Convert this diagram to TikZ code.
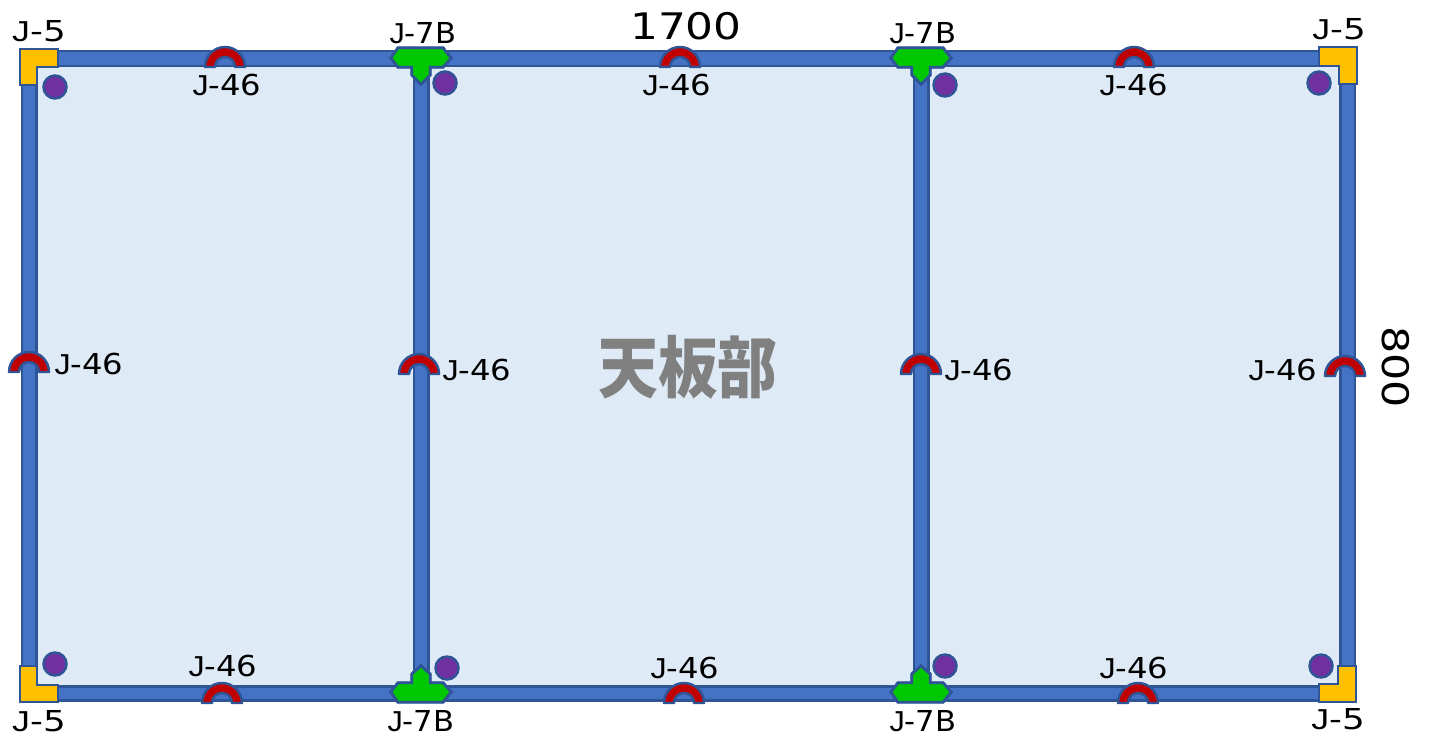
\documentclass[tikz,border=0pt]{standalone}
\usepackage{xcolor}
\usepackage{fontspec}
\setmainfont{DejaVu Sans}
\newfontfamily\cjk{Noto Sans CJK JP}
\newfontfamily\jfont{Liberation Sans}
\usepackage{tikz}
\definecolor{panelfill}{HTML}{DEEAF6}
\definecolor{wallfill}{HTML}{4472C4}
\definecolor{wallline}{HTML}{2F5597}
\definecolor{archfill}{HTML}{C00000}
\definecolor{teefill}{HTML}{00C800}
\definecolor{cornerfill}{HTML}{FFC000}
\definecolor{dotfill}{HTML}{7030A0}
\tikzset{
  wall/.style={fill=wallfill,draw=wallline,line width=0.7pt},
  arch/.style={fill=archfill,draw=wallline,line width=0.7pt,line join=round},
  tee/.style={fill=teefill,draw=wallline,line width=0.7pt},
  corner/.style={fill=cornerfill,draw=wallline,line width=0.7pt},
  dot/.style={circle,fill=dotfill,draw=wallline,line width=0.7pt,inner sep=0pt,minimum size=0.23cm},
  partlabel/.style={font=\fontsize{8.2}{10}\selectfont,xscale=#1,transform shape,inner sep=0pt},
  partlabel/.default=1.12,
  sizelabel/.style={font=\fontsize{10.4}{12}\selectfont,inner sep=0pt}
}
\newcommand{\archat}[2]{\draw[arch] (#1-20,#2) arc[start angle=180,end angle=360,radius=20] -- ++(-10,0) arc[start angle=360,end angle=180,radius=10] -- cycle;}
\begin{document}
\begin{tikzpicture}[x=0.01cm,y=-0.01cm]
\useasboundingbox (0,0) rectangle (1431,739);
\fill[panelfill] (29,58) rectangle (1348,693);
\draw[wall] (22,51) rectangle (1355,66);
\draw[wall] (22,686.5) rectangle (1355,700.5);
\foreach \x in {22,414,914,1340.5}
  \draw[wall] (\x,58) rectangle ++(14.5,635);
\foreach \x/\y in {225/67,680/67,1134/67,222/703,684/703,1138/703,29/372,419/374,921/374,1345/376}
  \archat{\x}{\y}
\foreach \x in {421,921} {
  \draw[tee] (\x-30,58) -- (\x-23,48) -- (\x+22,48) -- (\x+30,58) -- (\x+22,67) -- (\x+9,67) -- (\x+9,75) -- (\x,84) -- (\x-9,75) -- (\x-9,67) -- (\x-23,67) -- cycle;
  \draw[tee] (\x-30,692) -- (\x-23,683) -- (\x-9,683) -- (\x-9,674) -- (\x,666) -- (\x+9,674) -- (\x+9,683) -- (\x+22,683) -- (\x+30,692) -- (\x+22,702) -- (\x-23,702) -- cycle;
}
\draw[corner] (20,49) -- (58,49) -- (58,67) -- (37,67) -- (37,85) -- (20,85) -- cycle;
\draw[corner] (1357,47) -- (1319,47) -- (1319,66) -- (1339,66) -- (1339,84) -- (1357,84) -- cycle;
\draw[corner] (20,702) -- (58,702) -- (58,685) -- (37,685) -- (37,666) -- (20,666) -- cycle;
\draw[corner] (1356,702) -- (1319,702) -- (1319,684) -- (1338,684) -- (1338,666) -- (1356,666) -- cycle;
\node[dot] (dotA) at (55,87) {};
\node[dot] (dotB) at (445,83) {};
\node[dot] (dotC) at (945,85) {};
\node[dot] (dotD) at (1319,83) {};
\node[dot] (dotE) at (55,664) {};
\node[dot] (dotF) at (447,668) {};
\node[dot] (dotG) at (945,666) {};
\node[dot] (dotH) at (1321,666) {};
\foreach \x/\y [count=\i] in {39/31,1339/29,39/721,1338/719}
  \node[partlabel=1.24] (cornerlabel\i) at (\x,\y) {{\jfont J}-5};
\foreach \x/\y [count=\i] in {423/33,923/33,421/721,923/721}
  \node[partlabel=1.06] (teelabel\i) at (\x,\y) {{\jfont J}-7B};
\foreach \x/\y [count=\i] in {227/85,677/85,1134/85,223/666,685/668,1134/668,89/364,477/370,979/370,1283/370}
  \node[partlabel] (archlabel\i) at (\x,\y) {{\jfont J}-46};
\node[sizelabel,xscale=1.2,transform shape] (width) at (686,26) {1700};
\node[sizelabel,rotate=-90,xscale=1.17,transform shape] (height) at (1396,367) {800};
\node[font=\cjk\bfseries\fontsize{17}{20}\selectfont,text=gray,inner sep=0pt,yscale=1.12,transform shape] (panel) at (688,367) {天板部};
\end{tikzpicture}
\end{document}
